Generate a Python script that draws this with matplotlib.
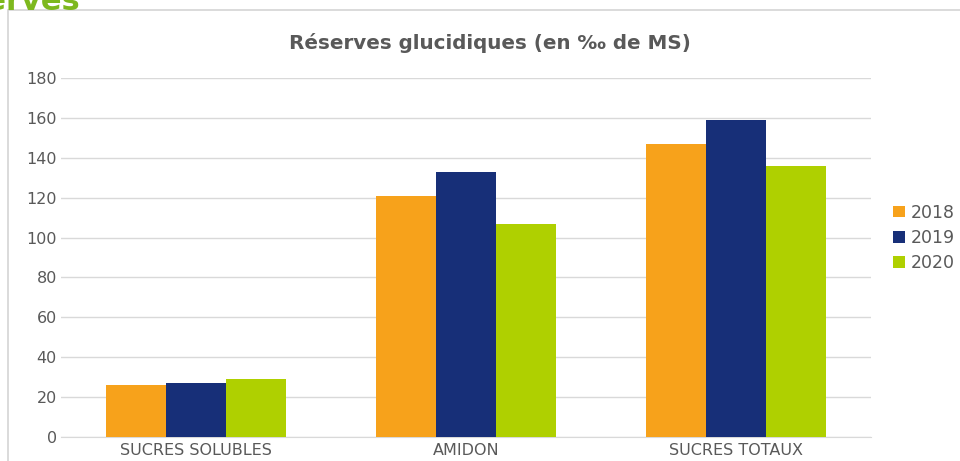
import numpy as np
import matplotlib.pyplot as plt
from matplotlib.patches import Rectangle

categories = ['SUCRES SOLUBLES', 'AMIDON', 'SUCRES TOTAUX']
years = ['2018', '2019', '2020']
v2018 = [26, 121, 147]
v2019 = [27, 133, 159]
v2020 = [29, 107, 136]
colors = ['#f7a21b', '#172f78', '#afd000']

fig = plt.figure(figsize=(9.6, 4.61), dpi=100)
ax = fig.add_axes([0.0635, 0.052, 0.8435, 0.779])

# outer frame of the chart box
fig.patches.append(Rectangle((8 / 960, -0.01), 1.0, 1 - 10 / 461 + 0.01,
                             transform=fig.transFigure, fill=False,
                             edgecolor='#d4d4d4', linewidth=1.2))
# cut-off heading above the box
fig.text(80 / 960, 1 - 10 / 461, 'Réserves', color='#7db81e', fontsize=22,
         fontweight='bold', ha='right', va='baseline')

x = np.arange(len(categories))
w = 2 / 9
for i, (vals, yr) in enumerate(zip([v2018, v2019, v2020], years)):
    ax.bar(x + (i - 1) * w, vals, width=w, color=colors[i], label=yr, zorder=3)

ax.set_xlim(-0.5, 2.5)
ax.set_ylim(0, 180)
ax.set_yticks(range(0, 181, 20))
ax.set_xticks(x)
ax.set_xticklabels(categories)
ax.grid(axis='y', color='#d9d9d9', linewidth=1, zorder=0)
for s in ['top', 'right', 'left']:
    ax.spines[s].set_visible(False)
ax.spines['bottom'].set_color('#d9d9d9')
ax.tick_params(axis='both', colors='#595959', labelsize=11.5, length=0)
ax.tick_params(axis='y', pad=3)
ax.tick_params(axis='x', pad=4)

fig.text(490 / 960, 1 - 43 / 461, 'Réserves glucidiques (en ‰ de MS)',
         fontsize=14.3, fontweight='bold', color='#595959',
         ha='center', va='center')

ax.legend(loc='center left', bbox_to_anchor=(1.0, 0.554), frameon=False,
          fontsize=12.5, handlelength=0.65, handleheight=0.65, handletextpad=0.35,
          labelspacing=0.42, labelcolor='#595959', borderaxespad=0.9)

fig.savefig('out.png', dpi=100)
